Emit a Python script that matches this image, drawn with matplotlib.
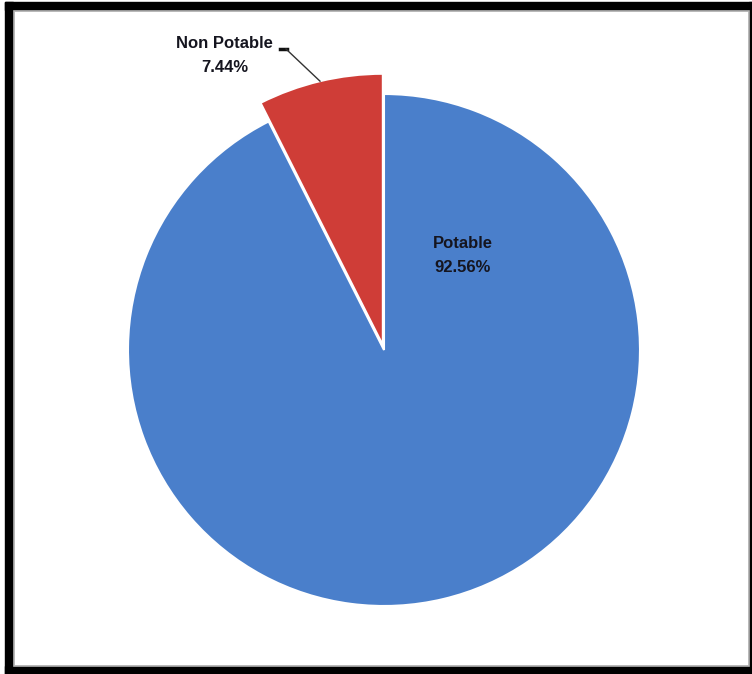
import numpy as np
import matplotlib.pyplot as plt
from matplotlib.patches import Rectangle

labels = ['Potable', 'Non Potable']
shares = [92.56, 7.44]
colors = ['#4a7fcb', '#cf3d37']

W, H = 752, 674
fig = plt.figure(figsize=(W / 100, H / 100), dpi=100)
ax = fig.add_axes([0, 0, 1, 1])

# pie centre and radius in pixel units (y measured from the bottom)
cx, cy, R = 384, H - 350, 256

wedges, _ = ax.pie(shares, colors=colors, startangle=90, counterclock=False,
                   center=(cx, cy), radius=R, frame=True,
                   wedgeprops=dict(edgecolor='white', linewidth=1.5))
ax.set_xlim(0, W)
ax.set_ylim(0, H)
ax.axis('off')

# pull the small slice out a little and make it stand proud of the pie
red = wedges[1]
mid = np.deg2rad((red.theta1 + red.theta2) / 2)
off = 5
red.set_center((cx + off * np.cos(mid), cy + off * np.sin(mid)))
red.set_radius(R * 1.06)
red.set_zorder(3)

font = dict(family=['Liberation Sans', 'DejaVu Sans'], fontsize=12,
            fontweight='bold', color='#15151f', ha='center', va='center')

ax.text(463, H - 243, labels[0], **font)
ax.text(463, H - 267, f'{shares[0]:.2f}%', **font)

ax.text(224, H - 44, labels[1], **font)
ax.text(225, H - 68, f'{shares[1]:.2f}%', **font)

# leader line from label to the middle of the slice's outer edge
ex = red.center[0] + red.r * np.cos(mid)
ey = red.center[1] + red.r * np.sin(mid)
ax.plot([280, 287], [H - 49, H - 49], color='#111111', lw=2.5, zorder=4)
ax.plot([286, ex], [H - 49, ey], color='#333333', lw=1.0, zorder=4)

# chart frame: heavy black border with a thin grey inner line
for r in [Rectangle((5, 0), 8, H - 2, color='black'),
          Rectangle((5, H - 10), W - 5, 8, color='black'),
          Rectangle((5, 0), W - 5, 8, color='black'),
          Rectangle((749, 0), 3, H - 2, color='black')]:
    ax.add_patch(r)
ax.add_patch(Rectangle((13.5, 8.5), 735, H - 19, fill=False,
                       edgecolor='#b5b5b5', lw=1.2))

fig.savefig('out.png', dpi=100, facecolor='white')
